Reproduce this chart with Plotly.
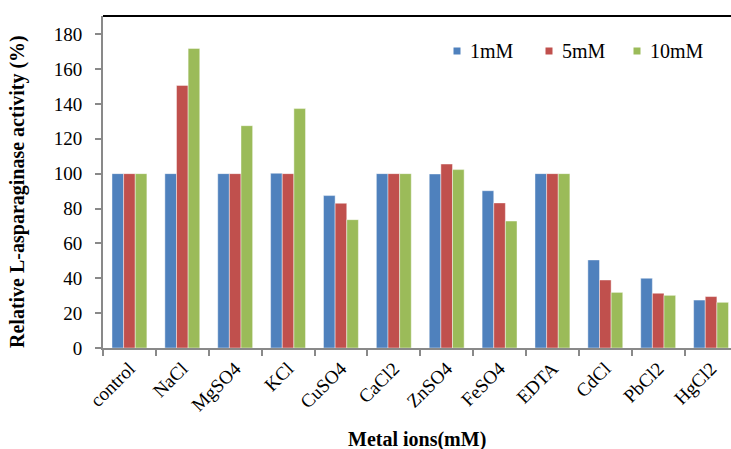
import plotly.graph_objects as go

# Relative L-asparaginase activity (%) for each metal ion at three concentrations
ions = ["control", "NaCl", "MgSO4", "KCl", "CuSO4", "CaCl2",
        "ZnSO4", "FeSO4", "EDTA", "CdCl", "PbCl2", "HgCl2"]
act_1mM = [100, 100, 100, 100.2, 87.4, 100, 99.8, 90.2, 100, 50.5, 40.0, 27.5]
act_5mM = [100, 150.6, 100, 100, 83.0, 100, 105.5, 83.2, 100, 39.0, 31.4, 29.5]
act_10mM = [100, 171.8, 127.5, 137.3, 73.6, 100, 102.3, 72.8, 100, 31.9, 30.2, 26.2]

series = [
    ("1mM", act_1mM, "#4F81BD"),
    ("5mM", act_5mM, "#C0504D"),
    ("10mM", act_10mM, "#9BBB59"),
]

serif = "Liberation Serif"

W, H = 731, 449
ML, MR, MT, MB = 103, 0, 16, 101
PW, PH = W - ML - MR, H - MT - MB


def px_to_paper(x, y):
    return (x - ML) / PW, (H - MB - y) / PH


fig = go.Figure()
for name, vals, color in series:
    fig.add_trace(go.Bar(
        x=ions, y=vals, name=name, showlegend=False,
        marker=dict(color=color, line=dict(color="rgba(255,255,255,0.55)", width=0.8)),
    ))

# Legend row: small square swatch followed by the series label
shapes = [dict(type="line", xref="paper", yref="paper", x0=0, x1=1, y0=1, y1=1,
               line=dict(color="black", width=2))]
annotations = []
legend_x = [457, 549, 637]
legend_y = 51
for (name, _, color), lx in zip(series, legend_x):
    x0, y0 = px_to_paper(lx - 3.5, legend_y + 3.5)
    x1, y1 = px_to_paper(lx + 3.5, legend_y - 3.5)
    shapes.append(dict(type="rect", xref="paper", yref="paper", x0=x0, x1=x1, y0=y0, y1=y1,
                       fillcolor=color, line=dict(width=0)))
    tx, ty = px_to_paper(lx + 11, legend_y)
    annotations.append(dict(text=name, xref="paper", yref="paper", x=tx, y=ty,
                            xanchor="left", yanchor="middle", showarrow=False,
                            font=dict(family=serif, size=20, color="black")))

# Axis titles
tx, ty = px_to_paper(18, 192)
annotations.append(dict(text="<b>Relative L-asparaginase activity (%)</b>", xref="paper", yref="paper",
                        x=tx, y=ty, xanchor="center", yanchor="middle", textangle=-90,
                        showarrow=False, font=dict(family=serif, size=20, color="black")))
tx, ty = px_to_paper(417, 439)
annotations.append(dict(text="<b>Metal ions(mM)</b>", xref="paper", yref="paper",
                        x=tx, y=ty, xanchor="center", yanchor="middle",
                        showarrow=False, font=dict(family=serif, size=20, color="black")))

fig.update_layout(
    width=W, height=H,
    margin=dict(l=ML, r=MR, t=MT, b=MB, autoexpand=False),
    paper_bgcolor="white", plot_bgcolor="white",
    barmode="group", bargap=0.34, bargroupgap=0,
    font=dict(family=serif, size=18, color="black"),
    xaxis=dict(
        type="category", range=[-0.5, 11.377], automargin=False,
        showline=True, linecolor="#898989", linewidth=2,
        ticks="outside", tickson="boundaries", ticklen=6, tickcolor="#898989", tickwidth=1.5,
        tickangle=-45, tickfont=dict(family=serif, size=19, color="black"),
        showgrid=False, zeroline=False,
    ),
    yaxis=dict(
        range=[0, 190.4], tickmode="linear", tick0=0, dtick=20, automargin=False,
        showline=True, linecolor="#898989", linewidth=2,
        ticks="outside", ticklen=6, tickcolor="#898989", tickwidth=1.5,
        ticklabelstandoff=9,
        tickfont=dict(family=serif, size=19, color="black"),
        showgrid=False, zeroline=False,
    ),
    shapes=shapes,
    annotations=annotations,
)

fig.write_html("out.html")
